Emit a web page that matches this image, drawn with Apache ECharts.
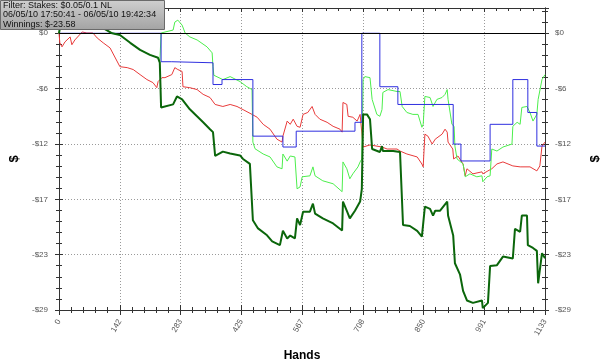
<!DOCTYPE html>
<html><head><meta charset="utf-8">
<script src="https://cdn.jsdelivr.net/npm/echarts@6/dist/echarts.min.js"></script>
<style>html,body{margin:0;padding:0;background:#fff}#c{width:600px;height:362px}</style>
</head><body><div id="c"></div>
<script>
// Tick settings (hands axis 0..1133 in 8 steps; $ axis -29..0 in 5 steps)
const handsMax = 1133;
const handsStep = 141.625;
const dollarMin = -29;
const dollarMax = 2.65;
const dollarStep = 5.8;

const infoLines = ['Filter: Stakes: $0.05/0.1 NL', '06/05/10 17:50:41 - 06/05/10 19:42:34', 'Winnings: $-23.58'];

// [hand, $]
const darkGreen = [[0,0],[2,0.55],[7,1.4],[26,2.0],[61,1.6],[96,1.0],[103,0.55],[124,0],[142,-0.18],[166,-1.0],[189,-1.74],[212,-2.26],[231,-2.57],[235,-3.09],[238,-7.77],[266,-7.45],[275,-6.62],[287,-6.93],[305,-7.97],[336,-9.32],[352,-10.05],[359,-10.36],[364,-12.86],[382,-12.4],[399,-12.6],[422,-12.8],[429,-13.17],[445,-13.69],[452,-19.6],[464,-20.45],[485,-21.17],[497,-21.8],[515,-22.2],[522,-20.7],[532,-21.5],[539,-21.2],[550,-21.5],[555,-19.4],[562,-20.1],[569,-18.7],[585,-18.7],[592,-17.85],[597,-18.9],[615,-19.4],[639,-19.93],[660,-20.66],[662,-17.64],[671,-18.6],[678,-19.4],[690,-18.6],[702,-17.64],[706,-16.3],[709,-8.5],[718,-8.5],[725,-9.0],[730,-12.13],[748,-12.44],[753,-11.82],[755,-12.34],[779,-12.34],[795,-12.44],[802,-20.1],[818,-20.2],[835,-20.7],[846,-21.3],[853,-18.16],[865,-18.4],[872,-19.1],[877,-18.6],[888,-18.6],[905,-17.64],[907,-19.1],[919,-21.2],[923,-24.1],[935,-25.3],[942,-27.0],[951,-28.0],[965,-28.25],[986,-28.0],[988,-28.8],[1000,-28.25],[1005,-24.4],[1021,-24.3],[1035,-23.4],[1058,-23.6],[1063,-20.5],[1075,-20.8],[1079,-19.1],[1091,-19.1],[1093,-22.2],[1105,-22.5],[1114,-22.8],[1117,-26.2],[1121,-26.2],[1126,-23.05],[1133,-23.58]];

const lightGreen = [[0,0],[2,0.55],[7,1.4],[26,2.0],[61,1.6],[96,1.0],[103,0.55],[124,0],[142,-0.18],[166,-1.0],[189,-1.74],[212,-2.26],[231,-2.57],[235,-3.09],[238,0.03],[242,0.14],[266,0.34],[270,1.17],[277,1.38],[287,0.86],[294,0.03],[305,-0.38],[322,-0.7],[345,-1.42],[357,-2.05],[359,-3.5],[361,-4.4],[382,-4.85],[399,-4.54],[422,-5.06],[438,-5.6],[450,-5.9],[452,-11.4],[457,-12.1],[476,-12.65],[492,-12.96],[508,-14.0],[520,-14.2],[522,-12.65],[532,-13.4],[539,-12.86],[550,-12.96],[555,-16.3],[562,-16.1],[567,-15.04],[585,-14.94],[592,-14.0],[597,-14.94],[615,-15.46],[639,-15.77],[660,-16.6],[662,-13.48],[671,-14.2],[678,-15.25],[685,-14.73],[697,-14.0],[702,-13.48],[706,-13.17],[709,-4.85],[713,-4.54],[725,-4.65],[730,-6.93],[741,-8.5],[748,-8.7],[753,-8.0],[755,-6.2],[767,-5.9],[788,-6.1],[795,-6.1],[800,-7.67],[811,-8.3],[825,-8.5],[837,-8.5],[846,-9.85],[849,-9.54],[853,-6.62],[865,-6.73],[872,-7.67],[881,-6.93],[893,-6.73],[900,-6.4],[905,-5.9],[907,-6.93],[916,-9.54],[921,-9.75],[923,-11.82],[928,-13.17],[942,-13.69],[947,-15.04],[958,-14.73],[974,-15.04],[986,-14.94],[988,-15.56],[998,-15.04],[1005,-14.94],[1009,-12.13],[1021,-12.34],[1035,-11.92],[1056,-11.61],[1058,-9.75],[1068,-9.33],[1075,-9.54],[1079,-7.77],[1091,-7.67],[1098,-8.3],[1105,-9.2],[1114,-8.5],[1117,-6.93],[1126,-4.85],[1133,-4.33]];

const red = [[0,0],[2,-1.0],[7,-1.42],[14,-0.9],[26,-0.38],[30,-1.2],[37,-0.7],[54,0.14],[56,0.34],[65,0.03],[79,0.03],[89,-0.49],[103,-1.0],[119,-1.53],[142,-3.5],[159,-3.6],[173,-3.8],[189,-4.33],[205,-4.85],[219,-5.17],[228,-5.7],[231,-5.06],[240,-4.65],[247,-4.65],[263,-4.33],[270,-3.6],[277,-3.8],[287,-4.0],[289,-5.6],[305,-5.7],[322,-5.9],[336,-6.4],[352,-6.73],[364,-7.46],[382,-7.67],[399,-7.46],[415,-7.67],[429,-8.0],[450,-8.5],[462,-8.8],[476,-9.54],[492,-10.05],[508,-11.1],[520,-11.4],[522,-10.78],[532,-9.2],[539,-9.54],[546,-9.0],[555,-9.75],[562,-9.85],[569,-8.5],[580,-8.3],[590,-7.67],[597,-8.5],[608,-9.0],[625,-9.33],[639,-9.75],[655,-10.05],[660,-10.36],[662,-7.25],[671,-7.46],[674,-8.7],[685,-8.8],[695,-9.2],[702,-8.5],[706,-8.7],[709,-11.92],[725,-11.7],[753,-11.92],[765,-12.13],[788,-12.13],[795,-12.34],[811,-12.65],[835,-12.96],[846,-13.7],[849,-14.0],[853,-10.57],[860,-10.78],[870,-11.61],[877,-11.1],[893,-10.57],[900,-10.05],[905,-10.36],[907,-11.4],[918,-12.13],[920,-13.17],[930,-12.86],[942,-13.7],[947,-14.94],[951,-14.2],[965,-14.73],[986,-14.52],[988,-14.73],[1000,-14.42],[1009,-14.2],[1021,-13.69],[1035,-13.48],[1058,-13.9],[1075,-14.0],[1098,-14.0],[1114,-14.42],[1121,-13.9],[1126,-11.82],[1133,-11.4]];

// step line: value holds until next change
const blue = [[0,0],[238,-2.98],[263,-3.09],[359,-5.37],[380,-4.85],[452,-10.78],[522,-11.92],[553,-10.26],[690,-9.33],[706,0],[748,-5.6],[790,-7.46],[919,-11.61],[937,-13.38],[1005,-9.54],[1058,-4.85],[1093,-8.3],[1114,-11.82],[1133,-11.82]];

const FONT = '"Liberation Sans", Arial, sans-serif';
const chart = echarts.init(document.getElementById('c'), null, {renderer: 'canvas'});

const axisLineStyle = {color: '#333', width: 1};
function xAx(extra) {
  return Object.assign({
    type: 'value', min: 0, max: handsMax, interval: handsStep,
    axisLine: {show: true, onZero: false, lineStyle: axisLineStyle},
    axisTick: {show: true, length: 5, lineStyle: axisLineStyle},
    minorTick: {show: true, splitNumber: 5, length: 3, lineStyle: axisLineStyle},
    axisLabel: {show: false},
    splitLine: {show: false}
  }, extra);
}
function yAx(extra) {
  return Object.assign({
    type: 'value', min: dollarMin, max: dollarMax, interval: dollarStep,
    axisLine: {show: true, onZero: false, lineStyle: axisLineStyle},
    axisTick: {show: true, length: 4, lineStyle: axisLineStyle},
    minorTick: {show: true, splitNumber: 5, length: 3, lineStyle: axisLineStyle},
    axisLabel: {show: false},
    splitLine: {show: false}
  }, extra);
}
const dollarFmt = v => v > 0.1 ? '' : (v < -0.01 ? '-$' : '$') + Math.abs(Math.round(v));
const labelStyle = {fontSize: 8, color: '#555', fontFamily: FONT};
const gridLine = {show: true, lineStyle: {color: '#9a9a9a', type: [1, 2], width: 1}};

chart.setOption({
  animation: false,
  textStyle: {fontFamily: FONT},
  grid: {left: 59, right: 55, top: 8, bottom: 52, outerBoundsMode: 'none', containLabel: false},
  xAxis: [
    xAx({position: 'bottom',
      axisLabel: Object.assign({show: true, rotate: 60, margin: 10, formatter: v => String(Math.round(v))}, labelStyle),
      splitLine: gridLine,
      name: 'Hands', nameLocation: 'middle', nameGap: 40,
      nameTextStyle: {fontSize: 12, fontWeight: 'bold', color: '#000', fontFamily: FONT}}),
    xAx({position: 'bottom', axisTick: {show: true, inside: true, length: 5, lineStyle: axisLineStyle}}),
    xAx({position: 'top', axisTick: {show: true, inside: true, length: 4, lineStyle: axisLineStyle}})
  ],
  yAxis: [
    yAx({position: 'left',
      axisLabel: Object.assign({show: true, margin: 11, formatter: dollarFmt}, labelStyle),
      splitLine: gridLine,
      name: '$', nameLocation: 'middle', nameGap: 38, nameRotate: 90,
      nameTextStyle: {fontSize: 13, fontWeight: 'bold', color: '#000', fontFamily: FONT}}),
    yAx({position: 'left', axisTick: {show: true, inside: true, length: 4, lineStyle: axisLineStyle}}),
    yAx({position: 'right',
      axisLabel: Object.assign({show: true, margin: 10, formatter: dollarFmt}, labelStyle),
      name: '$', nameLocation: 'middle', nameGap: 44, nameRotate: 90,
      nameTextStyle: {fontSize: 13, fontWeight: 'bold', color: '#000', fontFamily: FONT}}),
    yAx({position: 'right', axisTick: {show: true, inside: true, length: 4, lineStyle: axisLineStyle}})
  ],
  series: [
    {type: 'line', name: 'red', data: red, showSymbol: false, symbol: 'none',
      lineStyle: {color: '#e83a3a', width: 1}, z: 2,
      markLine: {silent: true, symbol: 'none', label: {show: false},
        lineStyle: {color: '#000', type: 'solid', width: 1}, data: [{yAxis: 0}]}},
    {type: 'line', name: 'light', data: lightGreen, showSymbol: false, symbol: 'none',
      lineStyle: {color: '#4cee4c', width: 1}, z: 3},
    {type: 'line', name: 'blue', data: blue, step: 'end', showSymbol: false, symbol: 'none',
      lineStyle: {color: '#2f2fdf', width: 1}, z: 4},
    {type: 'line', name: 'dark', data: darkGreen, showSymbol: false, symbol: 'none',
      lineStyle: {color: '#0b660b', width: 2}, z: 5}
  ],
  graphic: [
    {type: 'rect', z: 100, shape: {x: 0.5, y: 0.5, width: 164, height: 29},
      style: {fill: {type: 'linear', x: 0, y: 0, x2: 0, y2: 1,
        colorStops: [{offset: 0, color: '#cfcfcf'}, {offset: 1, color: '#a3a3a3'}]},
        stroke: '#6a6a6a', lineWidth: 1}},
    {type: 'text', z: 101, x: 3, y: 0.5,
      style: {text: infoLines.join('\n'), font: '9px ' + FONT, fill: '#111', lineHeight: 9.6}}
  ]
});
</script></body></html>
